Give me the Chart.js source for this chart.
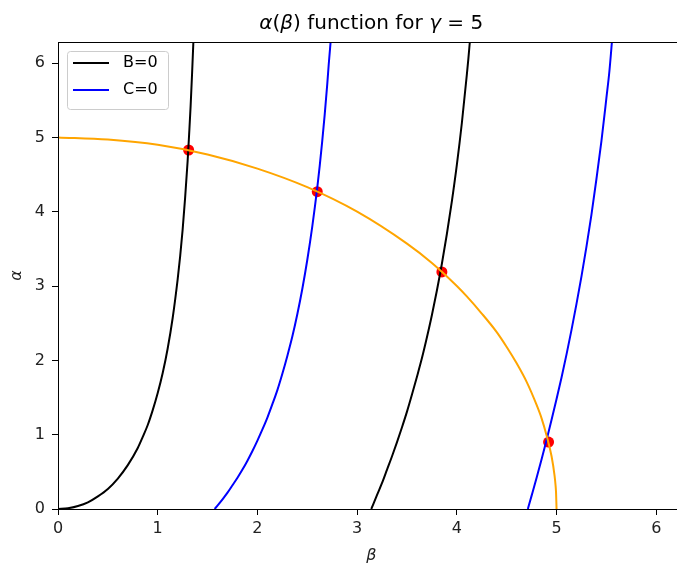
<!DOCTYPE html>
<html>
<head>
<meta charset="utf-8">
<script src="https://cdn.jsdelivr.net/npm/chart.js@4/dist/chart.umd.min.js"></script>
<style>
  html, body { margin: 0; padding: 0; overflow: hidden; background: #fff; }
</style>
</head>
<body>
<canvas id="chart" width="690" height="568"></canvas>
<script>
// Точки (β, α)
const bZero1Beta  = [0, 0.1, 0.2, 0.3, 0.4, 0.5, 0.6, 0.7, 0.8, 0.85, 0.9, 0.95, 1.0, 1.05, 1.1, 1.15, 1.2, 1.225, 1.25, 1.275, 1.3, 1.315, 1.33, 1.345, 1.36];
const bZero1Alpha = [0, 0.01, 0.04, 0.09, 0.17, 0.27, 0.41, 0.59, 0.82, 0.97, 1.13, 1.33, 1.56, 1.83, 2.16, 2.57, 3.09, 3.40, 3.76, 4.19, 4.68, 5.04, 5.42, 5.87, 6.36];

const cZero1Beta  = [1.571, 1.65, 1.7, 1.75, 1.8, 1.85, 1.9, 1.95, 2.0, 2.05, 2.1, 2.15, 2.2, 2.25, 2.3, 2.35, 2.4, 2.45, 2.5, 2.55, 2.6, 2.625, 2.65, 2.675, 2.7, 2.715, 2.735];
const cZero1Alpha = [0, 0.13, 0.22, 0.32, 0.42, 0.53, 0.65, 0.78, 0.92, 1.07, 1.23, 1.41, 1.60, 1.82, 2.06, 2.32, 2.62, 2.96, 3.35, 3.80, 4.32, 4.62, 4.95, 5.31, 5.71, 5.98, 6.30];

const bZero2Beta  = [3.142, 3.2, 3.25, 3.3, 3.35, 3.4, 3.45, 3.5, 3.55, 3.6, 3.65, 3.7, 3.75, 3.8, 3.85, 3.9, 3.95, 4.0, 4.05, 4.1, 4.115, 4.13];
const bZero2Alpha = [0, 0.19, 0.35, 0.53, 0.71, 0.90, 1.10, 1.31, 1.54, 1.78, 2.03, 2.31, 2.61, 2.94, 3.30, 3.70, 4.14, 4.63, 5.19, 5.84, 6.05, 6.28];

const cZero2Beta  = [4.712, 4.75, 4.8, 4.85, 4.9, 4.95, 5.0, 5.05, 5.1, 5.15, 5.2, 5.25, 5.3, 5.35, 5.4, 5.45, 5.5, 5.53, 5.56];
const cZero2Alpha = [0, 0.18, 0.42, 0.67, 0.93, 1.20, 1.48, 1.77, 2.08, 2.41, 2.76, 3.13, 3.53, 3.96, 4.44, 4.95, 5.53, 5.89, 6.36];

const circleBeta  = [0, 0.5, 1.0, 1.5, 2.0, 2.5, 3.0, 3.5, 3.75, 4.0, 4.1, 4.25, 4.4, 4.5, 4.6, 4.7, 4.8, 4.85, 4.9, 4.95, 4.98, 4.99, 4.995, 5.0];
const circleAlpha = [5.0, 4.97, 4.90, 4.77, 4.58, 4.33, 4.0, 3.57, 3.31, 3.0, 2.86, 2.63, 2.38, 2.18, 1.96, 1.71, 1.40, 1.22, 0.99, 0.71, 0.45, 0.32, 0.22, 0];

const rootBeta  = [1.31, 2.60, 3.85, 4.92];
const rootAlpha = [4.83, 4.27, 3.19, 0.90];

const xTicks = [0, 1, 2, 3, 4, 5, 6];
const yTicks = [0, 1, 2, 3, 4, 5, 6];
const axisMax = 6.2832;

const toPoints = (xs, ys) => xs.map((x, i) => ({ x: x, y: ys[i] }));

const lineStyle = (label, xs, ys, color) => ({
    label: label,
    data: toPoints(xs, ys),
    showLine: true,
    borderColor: color,
    backgroundColor: color,
    borderWidth: 2,
    pointRadius: 0,
    cubicInterpolationMode: 'monotone'
});

// Заголовок з курсивними грецькими літерами
const titlePlugin = {
    id: 'mplTitle',
    afterDraw(chart) {
        const ctx = chart.ctx;
        const area = chart.chartArea;
        const parts = [
            ['α', true], ['(', false], ['β', true], [') function for ', false],
            ['γ', true], [' = 5', false]
        ];
        const fontFor = it => (it ? 'italic ' : '') + '20px "DejaVu Sans"';
        ctx.save();
        let total = 0;
        parts.forEach(p => { ctx.font = fontFor(p[1]); total += ctx.measureText(p[0]).width; });
        let x = (area.left + area.right) / 2 - total / 2;
        ctx.fillStyle = '#000';
        ctx.textBaseline = 'middle';
        ctx.textAlign = 'left';
        parts.forEach(p => {
            ctx.font = fontFor(p[1]);
            ctx.fillText(p[0], x, 24);
            x += ctx.measureText(p[0]).width;
        });
        ctx.restore();
    }
};

// Рамка навколо області графіка та легенда всередині
const framePlugin = {
    id: 'mplFrame',
    afterDraw(chart) {
        const ctx = chart.ctx;
        const a = chart.chartArea;
        ctx.save();
        ctx.strokeStyle = '#000';
        ctx.lineWidth = 1;
        ctx.strokeRect(a.left + 0.5, a.top + 0.5, a.right - a.left, a.bottom - a.top);

        const items = chart.data.datasets.filter(d => d.label);
        const bx = a.left + 9, by = a.top + 9, bw = 101, bh = 58;
        ctx.fillStyle = 'rgba(255,255,255,0.8)';
        ctx.strokeStyle = '#cccccc';
        ctx.beginPath();
        ctx.roundRect(bx + 0.5, by + 0.5, bw, bh, 3);
        ctx.fill();
        ctx.stroke();
        ctx.font = '16px "DejaVu Sans"';
        ctx.textBaseline = 'middle';
        items.forEach((d, i) => {
            const yy = by + 12 + i * 27;
            ctx.strokeStyle = d.borderColor;
            ctx.lineWidth = 2;
            ctx.beginPath();
            ctx.moveTo(bx + 6, yy);
            ctx.lineTo(bx + 42, yy);
            ctx.stroke();
            ctx.fillStyle = '#000';
            ctx.fillText(d.label, bx + 56, yy);
        });
        ctx.restore();
    }
};

new Chart(document.getElementById('chart'), {
    type: 'scatter',
    data: {
        datasets: [
            lineStyle('', circleBeta, circleAlpha, '#ffa500'),
            lineStyle('B=0', bZero1Beta, bZero1Alpha, '#000000'),
            lineStyle('', bZero2Beta, bZero2Alpha, '#000000'),
            lineStyle('C=0', cZero1Beta, cZero1Alpha, '#0000ff'),
            lineStyle('', cZero2Beta, cZero2Alpha, '#0000ff'),
            {
                label: '',
                data: toPoints(rootBeta, rootAlpha),
                pointRadius: 5.5,
                pointHoverRadius: 5.5,
                backgroundColor: '#ff0000',
                borderWidth: 0
            }
        ]
    },
    options: {
        responsive: false,
        animation: false,
        events: [],
        layout: { padding: { top: 42, right: 4.6, left: 0, bottom: 0 } },
        plugins: {
            legend: { display: false },
            title: { display: false },
            tooltip: { enabled: false }
        },
        scales: {
            x: {
                type: 'linear',
                min: 0,
                max: axisMax,
                afterFit(scale) { scale.height = 59; },
                afterBuildTicks(scale) { scale.ticks = xTicks.map(v => ({ value: v })); },
                grid: { drawOnChartArea: false, drawTicks: true, tickLength: 6, color: '#000' },
                border: { display: true, color: '#000', width: 1 },
                ticks: {
                    color: '#222',
                    padding: 4,
                    font: { family: 'DejaVu Sans', size: 16 },
                    callback: v => String(v)
                },
                title: {
                    display: true,
                    text: 'β',
                    color: '#222',
                    padding: { top: 0, bottom: 2.4 },
                    font: { family: 'DejaVu Sans', size: 16, style: 'italic' }
                }
            },
            y: {
                type: 'linear',
                min: 0,
                max: axisMax,
                afterFit(scale) { scale.width = 58; },
                afterBuildTicks(scale) { scale.ticks = yTicks.map(v => ({ value: v })); },
                grid: { drawOnChartArea: false, drawTicks: true, tickLength: 6, color: '#000' },
                border: { display: true, color: '#000', width: 1 },
                ticks: {
                    color: '#222',
                    padding: 7,
                    font: { family: 'DejaVu Sans', size: 16 },
                    callback: v => String(v)
                },
                title: {
                    display: true,
                    text: 'α',
                    color: '#222',
                    padding: { top: 7.4, bottom: 0 },
                    font: { family: 'DejaVu Sans', size: 16, style: 'italic' }
                }
            }
        }
    },
    plugins: [titlePlugin, framePlugin]
});
</script>
</body>
</html>
